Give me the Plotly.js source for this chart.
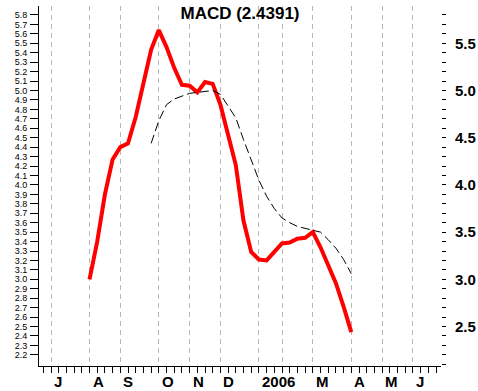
<!DOCTYPE html>
<html>
<head>
<meta charset="utf-8">
<script src="https://cdn.plot.ly/plotly-3.0.1.min.js"></script>
<style>html,body{margin:0;padding:0;background:#fff;}#chart{width:478px;height:391px;}</style>
</head>
<body>
<div id="chart"></div>
<script>
// weekly index (0 = first week of July 2005)
const weeks = [5,6,7,8,9,10,11,12,13,14,15,16,17,18,19,20,21,22,23,24,25,26,27,28,29,30,31,32,33,34,35,36,37,38,39];
const macd = [3.00,3.40,3.90,4.27,4.40,4.44,4.72,5.06,5.43,5.64,5.46,5.24,5.06,5.05,4.98,5.09,5.07,4.85,4.53,4.21,3.62,3.29,3.21,3.20,3.29,3.38,3.39,3.43,3.44,3.50,3.34,3.15,2.96,2.71,2.44];
const signal = [null,null,null,null,null,null,null,null,4.44,4.68,4.85,4.91,4.94,4.97,4.98,4.99,5.00,4.96,4.84,4.71,4.48,4.26,4.05,3.88,3.75,3.65,3.60,3.56,3.54,3.52,3.50,3.42,3.33,3.21,3.06];
const monthTicks = [0,5,9,14,18,22,27,30,34,39,43,47];
const monthLabels = ["J","A","S","O","N","D","2006","","M","A","M","J"];
const leftTickVals = [2.2,2.3,2.4,2.5,2.6,2.7,2.8,2.9,3.0,3.1,3.2,3.3,3.4,3.5,3.6,3.7,3.8,3.9,4.0,4.1,4.2,4.3,4.4,4.5,4.6,4.7,4.8,4.9,5.0,5.1,5.2,5.3,5.4,5.5,5.6,5.7,5.8];
const leftTickText = leftTickVals.map(v => v.toFixed(1));
const rightTickVals = [2.5,3.0,3.5,4.0,4.5,5.0,5.5];
const rightTickText = rightTickVals.map(v => v.toFixed(1));
const titleText = "MACD (2.4391)";

const yRange = [2.082, 5.895];
const xRange = [-1.56, 50.65];

const traces = [
  {x: weeks, y: signal, type: 'scatter', mode: 'lines', yaxis: 'y2',
   line: {color: '#000000', width: 1, dash: '9px,4px'}, hoverinfo: 'skip', connectgaps: false},
  {x: weeks, y: macd, type: 'scatter', mode: 'lines',
   line: {color: '#ff0000', width: 4}, hoverinfo: 'skip'}
];

const annotations = monthTicks.map((t, i) => ({
  x: t, xref: 'x', y: 0, yref: 'paper', text: monthLabels[i], showarrow: false,
  xanchor: 'left', yanchor: 'middle', xshift: 1, yshift: -15,
  font: {family: 'Liberation Sans, Arial, sans-serif', size: 15, color: '#000', weight: 'bold'}
})).filter(a => a.text !== "");

const layout = {
  width: 478, height: 391,
  margin: {l: 39, r: 37, t: 6, b: 25, pad: 0},
  paper_bgcolor: '#ffffff', plot_bgcolor: '#ffffff',
  showlegend: false,
  title: {text: titleText, x: 240/478, xanchor: 'center', y: 1 - 13/391, yanchor: 'middle',
          font: {family: 'Liberation Sans, Arial, sans-serif', size: 17, color: '#000', weight: 'bold'}},
  xaxis: {
    range: xRange, type: 'linear', zeroline: false,
    showline: true, linecolor: '#000', linewidth: 1,
    tickmode: 'array', tickvals: monthTicks, ticktext: monthTicks.map(() => ''),
    showticklabels: false,
    ticks: 'outside', ticklen: 25, tickcolor: '#000', tickwidth: 1,
    showgrid: true, gridcolor: '#b8b8b8', gridwidth: 1, griddash: '5px,4px',
    minor: {tickmode: 'linear', tick0: 0, dtick: 1, ticks: 'outside', ticklen: 6, tickcolor: '#000', tickwidth: 1, showgrid: false}
  },
  yaxis: {
    range: yRange, zeroline: false, showgrid: false,
    showline: true, linecolor: '#000', linewidth: 1,
    tickmode: 'array', tickvals: leftTickVals, ticktext: leftTickText,
    ticks: 'outside', ticklen: 8, tickcolor: '#000', tickwidth: 1,
    ticklabelstandoff: 1,
    tickfont: {family: 'Liberation Sans, Arial, sans-serif', size: 9, color: '#000'}
  },
  yaxis2: {
    range: yRange, overlaying: 'y', side: 'right', zeroline: false, showgrid: false,
    showline: false,
    tickmode: 'array', tickvals: rightTickVals, ticktext: rightTickText,
    ticks: 'outside', ticklen: 4, tickcolor: '#000', tickwidth: 1,
    ticklabelstandoff: 6,
    tickfont: {family: 'Liberation Sans, Arial, sans-serif', size: 15, color: '#000', weight: 'bold'},
    minor: {tickmode: 'linear', tick0: 0, dtick: 0.1, ticks: 'outside', ticklen: 4, tickcolor: '#000', tickwidth: 1, showgrid: false}
  },
  annotations: annotations
};

Plotly.newPlot('chart', traces, layout, {staticPlot: true, displayModeBar: false});
</script>
</body>
</html>
